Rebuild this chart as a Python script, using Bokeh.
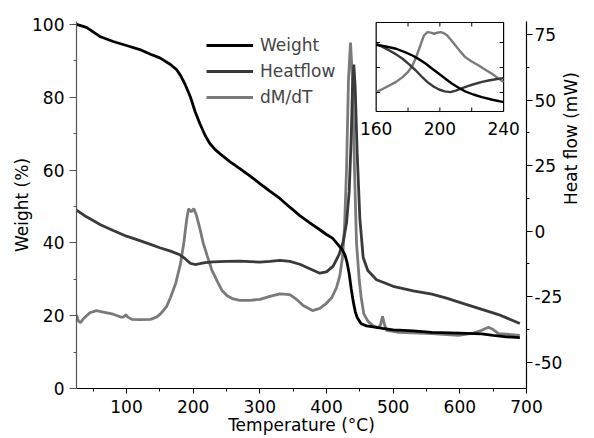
import math
from bokeh.plotting import figure
from bokeh.models import (Range1d, LinearAxis, SingleIntervalTicker, Legend, LegendItem,
                          CustomJSTickFormatter)
from bokeh.core.properties import value
from bokeh.embed import file_html
from bokeh.resources import INLINE

# ---------------- data ----------------
weight_T = [25, 40, 61, 80, 100, 120, 136, 150, 166, 175, 181, 188, 196, 203, 210, 218, 225, 233,
            240, 255, 270, 285, 300, 315, 330, 345, 360, 375, 390, 400, 409, 417, 424, 428, 431,
            434, 437, 440, 443, 446, 452, 460, 470, 484, 500, 530, 558, 600, 633, 650, 670, 690]
weight_W = [100, 99.2, 96.6, 95.3, 94.2, 93.1, 91.8, 90.8, 89.0, 87.6, 86.0, 83.5, 80, 76, 72.8,
            69.5, 67.3, 65.6, 64.5, 62.3, 60.4, 58.4, 56.3, 54.2, 52.2, 49.8, 47.5, 45.5, 43.6,
            42.3, 41.3, 39.6, 38, 36.5, 34.5, 31.5, 27.5, 24, 21.2, 19.5, 17.8, 17.2, 16.9, 16.5,
            16.1, 15.8, 15.4, 15.2, 15.0, 14.6, 14.2, 14.0]

heat_T = [25, 40, 61, 80, 100, 120, 136, 150, 166, 180, 188, 196, 203, 210, 218, 230, 250, 270,
          285, 300, 315, 330, 345, 360, 375, 390, 400, 410, 419, 425, 430, 434, 437, 439, 441,
          443, 446, 450, 455, 462, 475, 500, 530, 558, 580, 608, 633, 658, 690]
heat_H = [8, 5.5, 2.5, 0.3, -1.9, -3.6, -5, -6.3, -7.6, -9, -10.5, -12.3, -12.7, -12.4, -12,
          -11.7, -11.5, -11.4, -11.6, -11.8, -11.5, -11.1, -11.5, -12.6, -14.3, -16, -15.5,
          -13.3, -8.8, -4, 3, 15, 35, 55, 63.6, 55, 30, 5, -10, -15, -18.5, -21, -22.8, -24,
          -25.5, -27.8, -29.8, -31.8, -35.2]

dmdt_T = [25, 28, 31, 36, 45, 55, 65, 80, 92, 96, 99, 102, 108, 120, 136, 145, 151, 160, 166,
          174, 181, 186, 190, 193, 197, 201, 205, 210, 215, 221, 228, 236, 243, 251, 260, 270,
          285, 300, 315, 330, 345, 355, 365, 379, 390, 400, 408, 415, 420, 424, 427, 430, 433,
          436, 439, 442, 445, 449, 452, 456, 462, 470, 478, 481, 484, 487, 490, 509, 558, 598,
          620, 633, 643, 650, 658, 690]
dmdt_V = [20.2, 18.5, 18.1, 19.3, 20.8, 21.4, 21.0, 20.4, 19.6, 19.7, 20.3, 19.6, 19.0, 18.9,
          19.0, 19.6, 20.5, 22.5, 25, 29, 34.3, 40, 46, 49.4, 48.5, 49.4, 47.5, 44, 40, 36.5,
          32.5, 29.5, 27, 25.5, 24.6, 24.2, 24.2, 24.5, 25.3, 26, 25.8, 24.5, 22.8, 21.4, 22.0,
          23.4, 25, 27.7, 31, 36, 44, 60, 85, 95, 85, 60, 40, 30, 25, 20.5, 18.5, 17.2, 16.6,
          17.5, 19.8, 17.5, 16.0, 15.4, 15.1, 14.6, 15.2, 16.0, 16.8, 16.2, 15.1, 14.6]

# inset (160-240 °C zoom, arbitrary units)
inset_w_T = [160, 166, 172.5, 178, 182.8, 187, 191.2, 195, 199.4, 203.5, 207.7, 212, 216, 221,
             226.4, 233, 240]
inset_w_V = [58.2, 56.8, 55, 52.3, 49.6, 46.5, 43, 39.2, 35, 31, 27, 23.6, 20.8, 18.4, 16.3,
             14.2, 12.3]
inset_h_T = [160, 164, 168.3, 172.5, 176.6, 180.7, 184.9, 188.5, 192.2, 196, 199.4, 203, 206.7,
             210, 214, 218, 222.3, 226.5, 230.6, 235, 240]
inset_h_V = [59, 56.5, 53.6, 50.5, 47, 42.5, 37.6, 32.8, 28.3, 24.8, 22.4, 20.9, 20.3, 21.5,
             23.5, 25.3, 27, 28.5, 29.6, 30.6, 31.5]
inset_d_T = [160, 164, 168.3, 172.5, 176.6, 180, 182.8, 185, 187, 188.5, 190, 192.2, 194.3,
             196.3, 198.4, 200.5, 202.5, 204.6, 207, 209.8, 213, 216, 220, 224.4, 228.5, 232.7,
             236.5, 240]
inset_d_V = [20.3, 22.8, 25.6, 28.5, 32.3, 36.5, 41.6, 48, 55, 60.5, 65.6, 68.3, 67.9, 67,
             67.8, 68.3, 67.5, 65.6, 62, 57.6, 52.5, 48.2, 44.8, 41.6, 38.2, 35, 31.5, 28.3]
inset_xlim = [160, 240]
inset_ylim = [4.8, 76]
inset_xticks = [180, 200, 220]
inset_yticks = [20, 40, 60]
inset_xlabels = [160, 200, 240]

series_names = ["Weight", "Heatflow", "dM/dT"]
x_title = "Temperature (°C)"
y_title = "Weight (%)"
y2_title = "Heat flow (mW)"

# ---------------- style / geometry ----------------
FONT = "DejaVu Sans"
FS = "17px"
C_W, C_H, C_D = "#000000", "#3a3a3a", "#7a7a7a"
LW = 2.8
W, H = 594, 438
FW, FH = 452, 367
BL, BT = 76, 21
BR, BB = W - BL - FW, H - BT - FH
X0, X1 = 25, 700
Y0, Y1 = 0, 100.8
HF0, HF1 = -60, 80
# inset box in frame px (from frame left / top)
IL, IR, IT, IB = 301, 429, 1, 90

p = figure(width=W, height=H, output_backend="svg", toolbar_location=None,
           x_range=Range1d(X0, X1), y_range=Range1d(Y0, Y1),
           min_border_left=BL, min_border_right=BR,
           min_border_top=BT, min_border_bottom=BB)
p.outline_line_color = None
p.grid.visible = False
p.background_fill_color = "white"
p.border_fill_color = "white"

# inset ranges mapped so the inset data lands in the inset box
sx = (IR - IL) / (inset_xlim[1] - inset_xlim[0])
ixs = inset_xlim[0] - IL / sx
ixe = ixs + FW / sx
sy = (IB - IT) / (inset_ylim[1] - inset_ylim[0])
iye = inset_ylim[1] + IT / sy
iys = iye - FH / sy
p.extra_x_ranges = {"ix": Range1d(ixs, ixe)}
p.extra_y_ranges = {"hf": Range1d(HF0, HF1), "iy": Range1d(iys, iye)}

fmt = CustomJSTickFormatter(code="return String(tick);")

def style_axis(ax, color="black", tick=6):
    ax.axis_line_color = color
    ax.major_tick_line_color = color
    ax.minor_tick_line_color = color
    ax.axis_line_width = 1.2
    ax.major_label_text_font = FONT
    ax.major_label_text_font_size = FS
    ax.major_label_text_color = "black"
    ax.axis_label_text_font = FONT
    ax.axis_label_text_font_size = FS
    ax.axis_label_text_font_style = "normal"
    ax.axis_label_text_color = "black"
    ax.major_tick_in = 0
    ax.minor_tick_in = 0
    ax.major_tick_out = tick
    ax.minor_tick_out = 3
    ax.formatter = fmt

xa = p.xaxis[0]
xa.ticker = SingleIntervalTicker(interval=100, num_minor_ticks=2)
style_axis(xa, tick=5)
xa.axis_label = x_title
xa.major_label_standoff = 6
xa.axis_label_standoff = -1

ya = p.yaxis[0]
ya.ticker = SingleIntervalTicker(interval=20, num_minor_ticks=2)
style_axis(ya, "#555555", tick=7)
ya.axis_label = y_title
ya.major_label_standoff = 5
ya.axis_label_standoff = -3

ra = LinearAxis(y_range_name="hf", axis_label=y2_title,
                ticker=SingleIntervalTicker(interval=25, num_minor_ticks=2))
style_axis(ra)
ra.major_label_standoff = 2
ra.axis_label_standoff = 6
if "axis_label_orientation" in ra.properties():
    ra.axis_label_orientation = math.pi / 2
p.add_layout(ra, "right")

# main curves
r_d = p.line(dmdt_T, dmdt_V, line_color=C_D, line_width=LW)
r_h = p.line(heat_T, heat_H, line_color=C_H, line_width=LW, y_range_name="hf")
r_w = p.line(weight_T, weight_W, line_color=C_W, line_width=LW)

# legend
leg = Legend(items=[LegendItem(label=series_names[0], renderers=[r_w]),
                    LegendItem(label=series_names[1], renderers=[r_h]),
                    LegendItem(label=series_names[2], renderers=[r_d])],
             location=(130, 281))
leg.border_line_color = None
leg.background_fill_alpha = 0
leg.padding = 0
leg.margin = 0
leg.spacing = 6
leg.glyph_width = 47
leg.glyph_height = 20
leg.label_height = 20
leg.label_standoff = 7
leg.label_text_font = FONT
leg.label_text_font_size = FS
p.add_layout(leg)

# inset
ik = dict(x_range_name="ix", y_range_name="iy")
p.quad(left=[inset_xlim[0]], right=[inset_xlim[1]], bottom=[inset_ylim[0]], top=[inset_ylim[1]],
       fill_color="white", line_color="black", line_width=1.2, **ik)
p.line(inset_d_T, inset_d_V, line_color=C_D, line_width=LW - 0.4, **ik)
p.line(inset_h_T, inset_h_V, line_color=C_H, line_width=LW - 0.4, **ik)
p.line(inset_w_T, inset_w_V, line_color=C_W, line_width=LW - 0.4, **ik)
tick_len_y = 4 / sy
tick_len_x = 4 / sx
p.segment(x0=inset_xticks, x1=inset_xticks, y0=[inset_ylim[0]] * 3,
          y1=[inset_ylim[0] + tick_len_y] * 3, line_color="black", **ik)
p.segment(x0=inset_xticks, x1=inset_xticks, y0=[inset_ylim[1]] * 3,
          y1=[inset_ylim[1] - tick_len_y] * 3, line_color="black", **ik)
p.segment(x0=[inset_xlim[0]] * 3, x1=[inset_xlim[0] + tick_len_x] * 3, y0=inset_yticks,
          y1=inset_yticks, line_color="black", **ik)
p.segment(x0=[inset_xlim[1]] * 3, x1=[inset_xlim[1] - tick_len_x] * 3, y0=inset_yticks,
          y1=inset_yticks, line_color="black", **ik)
p.text(x=inset_xlabels, y=[inset_ylim[0]] * 3, text=[str(v) for v in inset_xlabels],
       text_font=value(FONT), text_font_size=FS, text_align="center",
       text_baseline="alphabetic", y_offset=17, text_color="black", **ik)

open("out.html", "w").write(file_html(p, INLINE))
